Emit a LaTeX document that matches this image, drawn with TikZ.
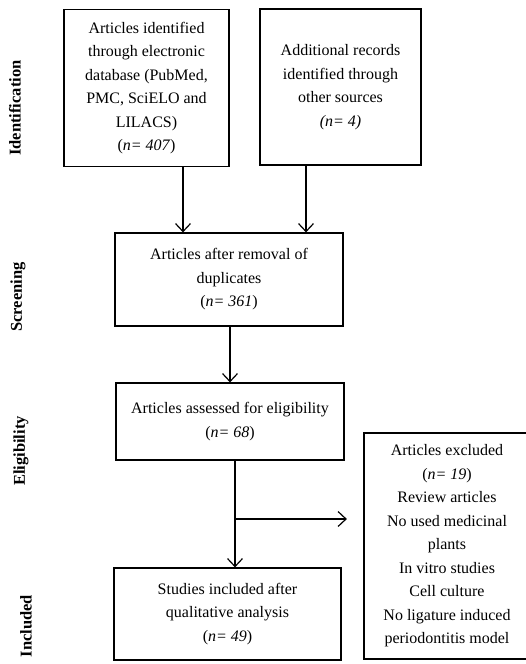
\documentclass[tikz,border=0pt]{standalone}
\usepackage{fontspec}
\setmainfont{Liberation Serif}
\usepackage{tikz}
\usetikzlibrary{arrows.meta, positioning, calc}

\tikzset{
  flowbox/.style={draw, line width=1.2pt, align=center, inner sep=0pt,
    font=\fontsize{16}{23.5}\selectfont},
  phase/.style={rotate=90, font=\fontsize{16.5}{18}\selectfont\bfseries},
  flowarrow/.style={line width=1.2pt, -{Straight Barb[length=8pt, width=15pt, line width=1.2pt]}}
}

\begin{document}
\begin{tikzpicture}[x=1pt, y=-1pt]
  \useasboundingbox (0,0) rectangle (525,664);

  % boxes
  \node[flowbox, minimum width=165pt, minimum height=157pt] (ident) at (146.5, 88)
    {Articles identified\\through electronic\\database (PubMed,\\PMC, SciELO and\\LILACS)\\(\textit{n= 407})};
  \node[flowbox, minimum width=161pt, minimum height=156pt] (other) at (340.5, 87)
    {Additional records\\identified through\\other sources\\\textit{(n= 4)}};
  \node[flowbox, minimum width=228pt, minimum height=93pt] (screen) at (229, 279.5)
    {Articles after removal of\\duplicates\\(\textit{n= 361})};
  \node[flowbox, minimum width=228pt, minimum height=77pt] (elig) at (230, 421.5)
    {Articles assessed for eligibility\\(\textit{n= 68})};
  \node[flowbox, minimum width=227pt, minimum height=92pt] (incl) at (227.5, 614)
    {Studies included after\\qualitative analysis\\(\textit{n= 49})};
  \node[flowbox, minimum width=166pt, minimum height=226pt] (excl) at (447, 546)
    {Articles excluded\\(\textit{n= 19})\\Review articles\\No used medicinal\\plants\\In vitro studies\\Cell culture\\No ligature induced\\periodontitis model};

  % phase labels
  \node[phase] (pid) at (15, 108) {Identification};
  \node[phase] (psc) at (18, 297) {Screening};
  \node[phase] (pel) at (21, 451) {Eligibility};
  \node[phase] (pin) at (26, 626) {Included};

  % connectors
  \coordinate (ia) at (183, 0);
  \coordinate (oa) at (306, 0);
  \coordinate (ea) at (235, 0);
  \coordinate (split) at (235, 519);
  \draw[flowarrow] (ident.south -| ia) -- (screen.north -| ia);
  \draw[flowarrow] (other.south -| oa) -- (screen.north -| oa);
  \draw[flowarrow] (screen.south -| elig.north) -- (elig.north);
  \draw[flowarrow] (elig.south -| ea) -- (incl.north -| ea);
  \draw[flowarrow] (split) -- ([xshift=-16.5pt]excl.west |- split);
\end{tikzpicture}
\end{document}
